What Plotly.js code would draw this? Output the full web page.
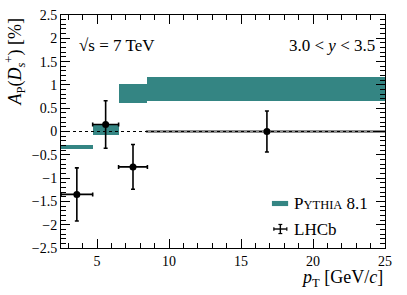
<!DOCTYPE html>
<html><head><meta charset="utf-8">
<script src="https://cdn.plot.ly/plotly-3.0.1.min.js"></script>
<style>html,body{margin:0;padding:0;background:#fff}</style>
</head><body><div id="chart" style="width:407px;height:295px"></div>
<script>
// LHCb data
const ptCenter = [3.6, 5.6, 7.5, 16.8];
const ptErrLow = [1.1, 0.9, 1.0, 8.3];
const ptErrHigh = [1.1, 0.9, 1.0, 8.2];
const apValue = [-1.35, 0.15, -0.76, 0.0];
const apErr = [0.57, 0.51, 0.48, 0.44];
// PYTHIA 8.1 bands
const binLow = [2.5, 4.7, 6.5, 8.5];
const binHigh = [4.7, 6.5, 8.5, 25];
const pyLow = [-0.37, -0.07, 0.61, 0.66];
const pyHigh = [-0.28, 0.14, 1.01, 1.17];
const xRange = [2.5, 25];
const yRange = [-2.5, 2.5];

const teal = '#348583';
const font = 'Liberation Serif, Times New Roman, serif';

const bands = {
  type: 'bar',
  x: binLow.map((l, i) => (l + binHigh[i]) / 2),
  width: binLow.map((l, i) => binHigh[i] - l),
  base: pyLow,
  y: pyLow.map((l, i) => pyHigh[i] - l),
  marker: {color: teal, line: {width: 0}},
  showlegend: false, hoverinfo: 'skip'
};
// wide bin (last point) horizontal error drawn grey under the dotted zero line
const last = ptCenter.length - 1;
const wideErr = {
  type: 'scatter', mode: 'markers', x: [ptCenter[last]], y: [apValue[last]],
  marker: {size: 0.1, color: 'rgba(0,0,0,0)'},
  error_x: {type: 'data', symmetric: false, array: [ptErrHigh[last]], arrayminus: [ptErrLow[last]], color: '#8c8c8c', thickness: 3, width: 1.5},
  showlegend: false, hoverinfo: 'skip'
};
const zero = {
  type: 'scatter', mode: 'lines', x: xRange, y: [0, 0],
  line: {color: '#000', width: 1, dash: 'dot'}, showlegend: false, hoverinfo: 'skip'
};
const lhcb = {
  type: 'scatter', mode: 'markers', x: ptCenter, y: apValue,
  marker: {color: '#000', size: 7},
  error_x: {type: 'data', symmetric: false,
    array: ptErrHigh.map((v, i) => i === last ? 0 : v),
    arrayminus: ptErrLow.map((v, i) => i === last ? 0 : v),
    color: '#000', thickness: 1.6, width: 2},
  error_y: {type: 'data', array: apErr, color: '#000', thickness: 1.6, width: 2},
  showlegend: false
};

const axisCommon = {
  showgrid: false, zeroline: false, showline: true, linecolor: '#000', linewidth: 1,
  mirror: 'allticks', ticks: 'inside', ticklen: 9, tickwidth: 1, tickcolor: '#000',
  tickfont: {family: font, size: 14, color: '#000'}
};

const layout = {
  width: 407, height: 295,
  margin: {l: 61, r: 22, t: 15, b: 47},
  paper_bgcolor: '#fff', plot_bgcolor: '#fff',
  bargap: 0, showlegend: false,
  font: {family: font, color: '#000'},
  xaxis: Object.assign({}, axisCommon, {
    range: xRange, tick0: 0, dtick: 5,
    minor: {dtick: 1, ticklen: 5, ticks: 'inside', tickcolor: '#000'}
  }),
  yaxis: Object.assign({}, axisCommon, {
    range: yRange, tick0: 0, dtick: 0.5,
    minor: {dtick: 0.1, ticklen: 5, ticks: 'inside', tickcolor: '#000'}
  }),
  shapes: [
    // legend: PYTHIA swatch
    {type: 'rect', xref: 'paper', yref: 'paper', x0: 0.651, x1: 0.701, y0: 0.180, y1: 0.202,
     fillcolor: teal, line: {width: 0}},
    // legend: LHCb error cross
    {type: 'line', xref: 'paper', yref: 'paper', x0: 0.657, x1: 0.697, y0: 0.0815, y1: 0.0815, line: {color: '#000', width: 1.4}},
    {type: 'line', xref: 'paper', yref: 'paper', x0: 0.677, x1: 0.677, y0: 0.062, y1: 0.101, line: {color: '#000', width: 1.4}},
    {type: 'line', xref: 'paper', yref: 'paper', x0: 0.657, x1: 0.657, y0: 0.074, y1: 0.089, line: {color: '#000', width: 1.2}},
    {type: 'line', xref: 'paper', yref: 'paper', x0: 0.697, x1: 0.697, y0: 0.074, y1: 0.089, line: {color: '#000', width: 1.2}},
    {type: 'line', xref: 'paper', yref: 'paper', x0: 0.671, x1: 0.683, y0: 0.101, y1: 0.101, line: {color: '#000', width: 1.2}},
    {type: 'line', xref: 'paper', yref: 'paper', x0: 0.671, x1: 0.683, y0: 0.062, y1: 0.062, line: {color: '#000', width: 1.2}}
  ],
  annotations: [
    {xref: 'paper', yref: 'paper', x: 0.05, y: 0.87, xanchor: 'left', yanchor: 'middle', showarrow: false,
     text: '√s = 7 TeV', font: {family: font, size: 17}},
    {xref: 'paper', yref: 'paper', x: 0.975, y: 0.87, xanchor: 'right', yanchor: 'middle', showarrow: false,
     text: '3.0 &lt; <i>y</i> &lt; 3.5', font: {family: font, size: 17}},
    {xref: 'paper', yref: 'paper', x: 0.713, y: 0.193, xanchor: 'left', yanchor: 'middle', showarrow: false,
     text: 'P<span style="font-size:12.5px">YTHIA</span> 8.1', font: {family: font, size: 17}},
    {xref: 'paper', yref: 'paper', x: 0.713, y: 0.080, xanchor: 'left', yanchor: 'middle', showarrow: false,
     text: 'LHCb', font: {family: font, size: 17}},
    {xref: 'paper', yref: 'paper', x: 1.0, y: -0.133, xanchor: 'right', yanchor: 'middle', showarrow: false,
     text: '<i>p</i><sub>T</sub> [GeV/<i>c</i>]', font: {family: font, size: 18}},
    {xref: 'paper', yref: 'paper', x: -0.142, y: 0.80, xanchor: 'center', yanchor: 'middle', showarrow: false,
     textangle: -90,
     text: '<i>A</i><sub>P</sub>(<i>D</i><sub><i>s</i></sub><sup>+</sup>) [%]', font: {family: font, size: 18}}
  ]
};
Plotly.newPlot('chart', [bands, wideErr, zero, lhcb], layout, {staticPlot: true, displayModeBar: false});
</script></body></html>
